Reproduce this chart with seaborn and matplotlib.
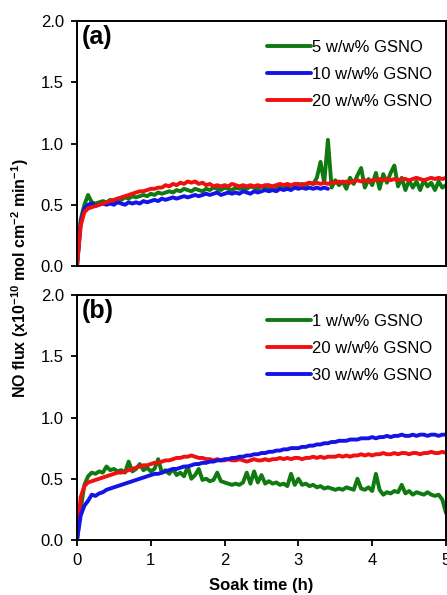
import numpy as np
import pandas as pd
import matplotlib
matplotlib.use("Agg")
import matplotlib.pyplot as plt
import seaborn as sns

# ---------------- data ----------------
time_h = [round(0.05 * i, 2) for i in range(101)]

a_5 = [0.00, 0.38, 0.50, 0.58, 0.52, 0.51, 0.52, 0.53, 0.52, 0.54,
       0.53, 0.55, 0.54, 0.56, 0.55, 0.57, 0.56, 0.57, 0.58, 0.57,
       0.59, 0.58, 0.60, 0.59, 0.60, 0.61, 0.60, 0.62, 0.61, 0.63,
       0.62, 0.61, 0.63, 0.62, 0.61, 0.63, 0.62, 0.64, 0.63, 0.62,
       0.64, 0.63, 0.62, 0.64, 0.63, 0.64, 0.63, 0.65, 0.64, 0.63,
       0.65, 0.64, 0.63, 0.65, 0.64, 0.66, 0.65, 0.64, 0.66, 0.65,
       0.66, 0.67, 0.66, 0.68, 0.67, 0.72, 0.85, 0.68, 1.03, 0.64,
       0.70, 0.66, 0.69, 0.63, 0.72, 0.67, 0.74, 0.80, 0.64, 0.71,
       0.66, 0.76, 0.63, 0.75, 0.68, 0.76, 0.82, 0.65, 0.72, 0.62,
       0.70, 0.64, 0.69, 0.62, 0.70, 0.65, 0.68, 0.62, 0.69, 0.64,
       0.66]

a_10 = [0.00, 0.35, 0.47, 0.50, 0.51, 0.49, 0.50, 0.51, 0.50, 0.51,
        0.50, 0.52, 0.51, 0.50, 0.52, 0.51, 0.52, 0.51, 0.53, 0.52,
        0.53, 0.54, 0.53, 0.55, 0.54, 0.55, 0.56, 0.55, 0.56, 0.57,
        0.56, 0.57, 0.58, 0.57, 0.58, 0.59, 0.58, 0.59, 0.60, 0.58,
        0.59, 0.60, 0.59, 0.60, 0.59, 0.61, 0.60, 0.59, 0.61, 0.60,
        0.61, 0.62, 0.61, 0.62, 0.61, 0.63, 0.62, 0.63, 0.62, 0.64,
        0.63, 0.64, 0.63, 0.64, 0.63, 0.64, 0.63, 0.64, 0.63] + [np.nan] * 32

a_20 = [0.00, 0.33, 0.44, 0.47, 0.48, 0.49, 0.50, 0.51, 0.52, 0.53,
        0.54, 0.55, 0.56, 0.57, 0.58, 0.59, 0.60, 0.61, 0.61, 0.62,
        0.63, 0.63, 0.64, 0.64, 0.66, 0.65, 0.67, 0.66, 0.68, 0.67,
        0.69, 0.68, 0.69, 0.67, 0.68, 0.66, 0.67, 0.65, 0.66, 0.65,
        0.66, 0.65, 0.67, 0.66, 0.65, 0.66, 0.65, 0.66, 0.65, 0.66,
        0.65, 0.66, 0.66, 0.65, 0.66, 0.67, 0.66, 0.67, 0.66, 0.67,
        0.67, 0.66, 0.67, 0.68, 0.67, 0.68, 0.67, 0.68, 0.67, 0.68,
        0.68, 0.69, 0.68, 0.69, 0.68, 0.69, 0.70, 0.69, 0.70, 0.69,
        0.70, 0.70, 0.71, 0.70, 0.71, 0.70, 0.71, 0.70, 0.71, 0.71,
        0.70, 0.71, 0.72, 0.71, 0.70, 0.71, 0.72, 0.71, 0.72, 0.71,
        0.72]

b_1 = [0.00, 0.25, 0.45, 0.52, 0.55, 0.54, 0.56, 0.55, 0.60, 0.57,
       0.58, 0.56, 0.57, 0.55, 0.64, 0.56, 0.58, 0.62, 0.57, 0.59,
       0.56, 0.58, 0.66, 0.55, 0.57, 0.54, 0.58, 0.53, 0.55, 0.52,
       0.60, 0.50, 0.53, 0.58, 0.49, 0.50, 0.48, 0.49, 0.55, 0.48,
       0.47, 0.46, 0.45, 0.46, 0.45, 0.47, 0.55, 0.46, 0.56, 0.47,
       0.53, 0.46, 0.48, 0.46, 0.47, 0.45, 0.46, 0.44, 0.54, 0.45,
       0.50, 0.45, 0.46, 0.44, 0.45, 0.43, 0.44, 0.42, 0.43, 0.42,
       0.41, 0.42, 0.41, 0.43, 0.42, 0.41, 0.50, 0.42, 0.41, 0.43,
       0.40, 0.54, 0.41, 0.37, 0.39, 0.38, 0.40, 0.39, 0.45, 0.38,
       0.40, 0.37, 0.39, 0.38, 0.37, 0.39, 0.37, 0.36, 0.37, 0.33,
       0.22]

b_20 = [0.00, 0.35, 0.44, 0.47, 0.48, 0.49, 0.50, 0.51, 0.52, 0.53,
        0.54, 0.55, 0.55, 0.56, 0.57, 0.58, 0.59, 0.60, 0.61, 0.61,
        0.62, 0.63, 0.63, 0.64, 0.65, 0.65, 0.66, 0.67, 0.67, 0.68,
        0.68, 0.69, 0.68, 0.67, 0.67, 0.66, 0.66, 0.65, 0.66, 0.65,
        0.65, 0.66, 0.65, 0.65, 0.66, 0.65, 0.64, 0.65, 0.66, 0.65,
        0.65, 0.66, 0.65, 0.66, 0.66, 0.67, 0.66, 0.67, 0.66, 0.67,
        0.67, 0.66, 0.67, 0.67, 0.68, 0.67, 0.68, 0.67, 0.68, 0.68,
        0.68, 0.69, 0.68, 0.69, 0.68, 0.69, 0.69, 0.70, 0.69, 0.70,
        0.69, 0.70, 0.70, 0.71, 0.70, 0.70, 0.71, 0.70, 0.71, 0.71,
        0.70, 0.71, 0.71, 0.70, 0.71, 0.71, 0.72, 0.71, 0.71, 0.72,
        0.71]

b_30 = [0.00, 0.20, 0.28, 0.32, 0.37, 0.36, 0.38, 0.39, 0.41, 0.42,
        0.43, 0.44, 0.45, 0.46, 0.47, 0.48, 0.49, 0.50, 0.51, 0.52,
        0.53, 0.54, 0.54, 0.55, 0.56, 0.57, 0.58, 0.58, 0.59, 0.60,
        0.60, 0.61, 0.62, 0.62, 0.63, 0.63, 0.64, 0.64, 0.65, 0.65,
        0.66, 0.66, 0.67, 0.67, 0.68, 0.68, 0.69, 0.69, 0.70, 0.70,
        0.71, 0.71, 0.72, 0.72, 0.73, 0.73, 0.74, 0.74, 0.75, 0.75,
        0.75, 0.76, 0.76, 0.77, 0.77, 0.78, 0.78, 0.79, 0.79, 0.80,
        0.80, 0.81, 0.81, 0.81, 0.82, 0.82, 0.82, 0.83, 0.83, 0.83,
        0.84, 0.83, 0.84, 0.84, 0.85, 0.84, 0.85, 0.85, 0.86, 0.85,
        0.85, 0.86, 0.85, 0.86, 0.86, 0.85, 0.86, 0.86, 0.85, 0.86,
        0.86]

labels_a = ["5 w/w% GSNO", "10 w/w% GSNO", "20 w/w% GSNO"]
labels_b = ["1 w/w% GSNO", "20 w/w% GSNO", "30 w/w% GSNO"]
y_ticks = [0.0, 0.5, 1.0, 1.5, 2.0]
x_ticks = [0, 1, 2, 3, 4, 5]

GREEN, BLUE, RED = "#0f7a0f", "#1414e6", "#f01010"
colors_a = {labels_a[0]: GREEN, labels_a[1]: BLUE, labels_a[2]: RED}
colors_b = {labels_b[0]: GREEN, labels_b[1]: RED, labels_b[2]: BLUE}


def long_df(series, labels):
    frames = []
    for vals, lab in zip(series, labels):
        frames.append(pd.DataFrame({"t": time_h, "flux": vals, "series": lab}))
    return pd.concat(frames, ignore_index=True)


df_a = long_df([a_5, a_10, a_20], labels_a)
df_b = long_df([b_1, b_20, b_30], labels_b)

# ---------------- figure ----------------
sns.set_theme(style="ticks")
plt.rcParams["font.family"] = ["Liberation Sans", "DejaVu Sans"]
plt.rcParams["mathtext.fontset"] = "custom"
plt.rcParams["mathtext.rm"] = "Liberation Sans"
plt.rcParams["mathtext.bf"] = "Liberation Sans:bold"
plt.rcParams["text.color"] = "black"
plt.rcParams["axes.labelcolor"] = "black"
plt.rcParams["xtick.color"] = "black"
plt.rcParams["ytick.color"] = "black"

W, H = 447, 595
fig = plt.figure(figsize=(W / 100, H / 100), dpi=100)
ax_a = fig.add_axes([77 / W, 1 - 266 / H, 369 / W, 245 / H])
ax_b = fig.add_axes([77 / W, 1 - 540 / H, 369 / W, 245 / H])

for ax, df, labels, cols, tag in [
    (ax_a, df_a, labels_a, colors_a, "(a)"),
    (ax_b, df_b, labels_b, colors_b, "(b)"),
]:
    sns.lineplot(data=df, x="t", y="flux", hue="series", hue_order=labels,
                 palette=cols, estimator=None, linewidth=2.8, ax=ax,
                 legend=False)
    ax.set_xlim(0, 5)
    ax.set_ylim(0, 2.0)
    ax.set_yticks(y_ticks)
    ax.set_yticklabels([f"{v:.1f}" for v in y_ticks])
    ax.set_xlabel("")
    ax.set_ylabel("")
    for s in ax.spines.values():
        s.set_linewidth(1.4)
        s.set_color("black")
    ax.tick_params(axis="both", direction="out", length=4.5, width=1.3,
                   labelsize=12, colors="black", pad=5)
    ax.tick_params(top=False, right=False)
    ax.text(0.014, 0.985, tag, transform=ax.transAxes, fontsize=18,
            fontweight="bold", va="top", ha="left", color="black")
    handles = [plt.Line2D([], [], color=cols[l], linewidth=2.8) for l in labels]
    leg = ax.legend(handles, labels, loc="upper right", frameon=False,
                    fontsize=12, handlelength=2.6, handletextpad=0.1,
                    labelspacing=0.72, borderaxespad=0.3,
                    bbox_to_anchor=(0.995, 0.97), labelcolor="black")

ax_a.set_xticks(x_ticks)
ax_a.tick_params(axis="x", bottom=False, labelbottom=False)
ax_b.set_xticks(x_ticks)
ax_b.set_xticklabels([str(v) for v in x_ticks])
ax_b.set_xlabel("Soak time (h)", fontsize=12, fontweight="bold", labelpad=7,
                color="black")

fig.text(20 / W, 1 - 278 / H,
         r"NO flux (x10$^{\mathbf{-10}}$ mol cm$^{\mathbf{-2}}$ min$^{\mathbf{-1}}$)",
         rotation=90, ha="center", va="center", fontsize=11.5,
         fontweight="bold", color="black")

fig.savefig("out.png", dpi=100)
